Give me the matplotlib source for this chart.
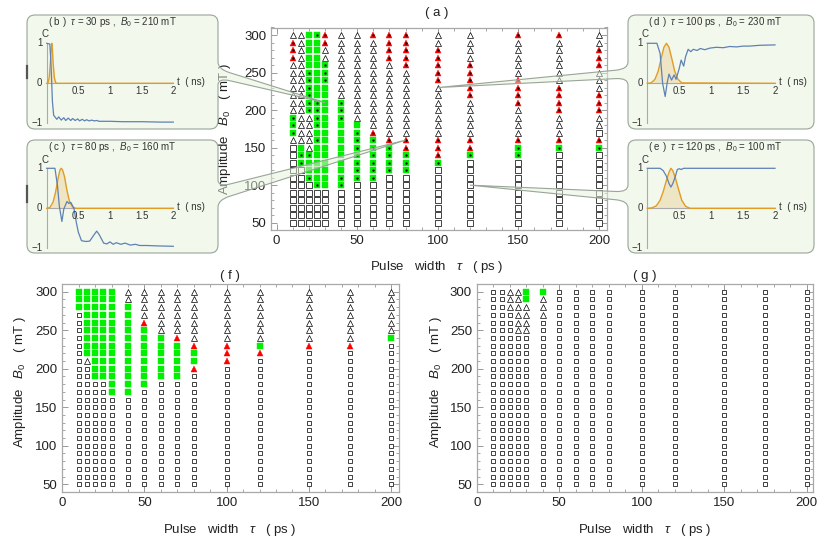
import matplotlib
matplotlib.use('Agg')
import matplotlib.pyplot as plt
from matplotlib.path import Path
from matplotlib.patches import PathPatch
from matplotlib.ticker import MultipleLocator
import numpy as np

plt.rcParams['font.family'] = ['Liberation Sans', 'DejaVu Sans']
plt.rcParams['mathtext.fontset'] = 'custom'
plt.rcParams['mathtext.rm'] = 'Liberation Sans'
plt.rcParams['mathtext.it'] = 'Liberation Sans:italic'

# scan grid: pulse widths (ps) and field amplitudes (mT, top to bottom)
taus = [10, 15, 20, 25, 30, 40, 50, 60, 70, 80, 100, 120, 150, 175, 200]
b0_levels = [300, 290, 280, 270, 260, 250, 240, 230, 220, 210, 200, 190, 180,
             170, 160, 150, 140, 130, 120, 110, 100, 90, 80, 70, 60, 50]

# one string per column, 300 mT first
# o open triangle, r red triangle with dot, R red triangle,
# G green square with dot, g green square, s open square
grid_a = [
    "o" + "rrr" + "o" * 7 + "GGG" + "o" + "s" * 11,
    "o" * 15 + "g" + "GG" + "s" * 8,
    "g" * 5 + "G" * 6 + "o" * 5 + "G" + "gg" + "G" + "s" * 6,
    "G" + "g" * 8 + "GGGG" + "g" + "G" + "g" * 5 + "G" + "s" * 5,
    "rr" + "oo" + "GGG" + "g" * 14 + "s" * 5,
    "o" * 9 + "GGG" + "g" * 7 + "GG" + "s" * 5,
    "o" * 12 + "g" + "G" * 7 + "s" * 6,
    "r" + "o" * 12 + "r" + "G" * 6 + "s" * 6,
    "rrrr" + "o" * 10 + "r" + "GGGG" + "s" * 7,
    "r" * 5 + "o" * 9 + "rr" + "GGG" + "s" * 7,
    "oo" + "rrrrr" + "o" * 7 + "rrr" + "G" + "s" * 8,
    "oooo" + "rrrrr" + "ooooo" + "rr" + "G" + "s" * 9,
    "r" + "ooooo" + "rrrr" + "oooo" + "r" + "GG" + "s" * 9,
    "r" + "o" * 6 + "rrrr" + "ooo" + "r" + "G" + "s" * 10,
    "oo" + "rrr" + "ooo" + "rrr" + "oo" + "s" + "r" + "G" + "s" * 10,
]
grid_f = [
    "ggg" + "s" * 23,
    "g" * 9 + "o" + "s" * 16,
    "g" * 12 + "s" * 14,
    "g" * 12 + "s" * 14,
    "g" * 14 + "s" * 12,
    "oo" + "g" * 12 + "s" * 12,
    "oooo" + "R" + "g" * 8 + "s" * 13,
    "o" * 6 + "g" * 6 + "s" * 14,
    "o" * 6 + "R" + "g" * 5 + "s" * 14,
    "o" * 7 + "R" + "gg" + "R" + "s" * 15,
    "o" * 7 + "RRR" + "s" * 16,
    "o" * 7 + "g" + "R" + "s" * 17,
    "o" * 7 + "R" + "s" * 18,
    "o" * 7 + "R" + "s" * 18,
    "o" * 6 + "g" + "s" * 19,
]
grid_g = [
    "s" * 26,
    "s" * 26,
    "ooo" + "s" * 23,
    "o" * 6 + "s" * 20,
    "gg" + "oooo" + "s" * 20,
    "g" + "ooo" + "s" * 22,
] + ["s" * 26] * 9

# inset curves: t (ns), pulse envelope, and C(t)
tp_b = [0, 0.02, 0.04, 0.06, 0.07, 0.08, 0.09, 0.1, 0.12, 0.14, 0.16, 2.0]
pulse_b = [0, 0.01, 0.15, 0.55, 0.85, 1.0, 0.85, 0.55, 0.15, 0.02, 0, 0]
tc_b = [0.0, 0.05, 0.07, 0.09, 0.11, 0.13, 0.16, 0.19, 0.23, 0.27, 0.30, 0.34,
        0.38, 0.41, 0.45, 0.49, 0.52, 0.56, 0.60, 0.63, 0.67, 0.71, 0.75, 0.79,
        0.83, 0.9, 1.0, 1.2, 1.5, 1.8, 2.0]
c_b = [1.0, 0.98, 0.4, -0.45, -0.8, -0.84, -0.9, -0.84, -0.92, -0.86, -0.93,
       -0.87, -0.93, -0.88, -0.93, -0.89, -0.94, -0.9, -0.94, -0.91, -0.94,
       -0.92, -0.94, -0.93, -0.95, -0.95, -0.95, -0.96, -0.96, -0.97, -0.97]

tp_c = [0, 0.05, 0.1, 0.14, 0.18, 0.21, 0.23, 0.25, 0.28, 0.32, 0.36, 0.41, 0.46, 2.0]
pulse_c = [0, 0.02, 0.15, 0.4, 0.75, 0.96, 1.0, 0.96, 0.8, 0.45, 0.17, 0.03, 0, 0]
tc_c = [0, 0.13, 0.17, 0.2, 0.24, 0.27, 0.32, 0.35, 0.38, 0.43, 0.47, 0.5, 0.55,
        0.62, 0.68, 0.74, 0.79, 0.83, 0.9, 0.95, 1.0, 1.05, 1.1, 1.17, 1.24,
        1.32, 1.4, 1.47, 1.58, 1.74, 2.0]
c_c = [1.0, 1.0, 0.57, 0.05, -0.33, -0.02, 0.17, 0.12, 0.15, 0.0, -0.37, -0.6,
       -0.81, -0.83, -0.82, -0.68, -0.57, -0.66, -0.87, -0.89, -0.84, -0.9,
       -0.86, -0.9, -0.87, -0.92, -0.9, -0.93, -0.93, -0.94, -0.95]

tp_d = [0, 0.06, 0.12, 0.17, 0.22, 0.26, 0.3, 0.34, 0.38, 0.43, 0.48, 0.54, 2.0]
pulse_d = [0, 0.01, 0.1, 0.3, 0.64, 0.9, 1.0, 0.9, 0.64, 0.3, 0.1, 0.01, 0]
tc_d = [0, 0.15, 0.2, 0.24, 0.28, 0.31, 0.34, 0.38, 0.42, 0.45, 0.5, 0.53, 0.57,
        0.6, 0.64, 0.68, 0.72, 0.78, 0.83, 0.9, 0.98, 1.08, 1.19, 1.29, 1.4,
        1.5, 1.6, 1.76, 2.0]
c_d = [1.0, 1.0, 0.75, 0.0, -0.33, 0.0, 0.23, 0.08, 0.21, 0.1, 0.37, 0.58, 0.43,
       0.67, 0.85, 0.79, 0.85, 0.82, 0.87, 0.84, 0.88, 0.9, 0.89, 0.92, 0.91,
       0.93, 0.93, 0.95, 0.96]

tp_e = [0, 0.07, 0.14, 0.2, 0.25, 0.3, 0.34, 0.37, 0.4, 0.44, 0.49, 0.54, 0.6, 0.67, 2.0]
pulse_e = [0, 0.01, 0.06, 0.2, 0.42, 0.7, 0.9, 1.0, 0.94, 0.76, 0.47, 0.2, 0.05, 0.0, 0]
tc_e = [0, 0.2, 0.25, 0.3, 0.34, 0.37, 0.4, 0.44, 0.47, 0.5, 0.53, 0.57, 0.7, 1.0, 1.5, 2.0]
c_e = [1.0, 1.0, 0.94, 0.8, 0.62, 0.53, 0.62, 0.8, 0.97, 0.99, 0.97, 1.0, 1.0, 1.0, 1.0, 1.0]

inset_labels = ["( b )  $\\tau$ = 30 ps ,  $B_0$ = 210 mT",
                "( c )  $\\tau$ = 80 ps ,  $B_0$ = 160 mT",
                "( d )  $\\tau$ = 100 ps ,  $B_0$ = 230 mT",
                "( e )  $\\tau$ = 120 ps ,  $B_0$ = 100 mT"]
inset_points = [(30, 210), (80, 160), (100, 230), (120, 100)]

W, H = 830, 540
fig = plt.figure(figsize=(W / 100, H / 100), dpi=100)


def px_rect(l, t, r, b):
    return [l / W, 1 - b / H, (r - l) / W, (b - t) / H]


def style(code, small):
    k = 0.9 if small else 1.0
    if code == 'o':
        return dict(marker='^', mfc='white', mec='black', mew=0.5, ms=4.8 * k)
    if code == 's':
        return dict(marker='s', mfc='white', mec='#222222', mew=0.6, ms=3.7 * k)
    if code in 'gG':
        return dict(marker='s', mfc='#00f000', mec='#00f000', mew=0.3, ms=4.4 * k)
    return dict(marker='^', mfc='#ff0000', mec='#ff0000', mew=0.3, ms=5.0 * k)


def panel(rect, grid, small):
    ax = fig.add_axes(rect)
    for code in 'sogGrR':
        xs, ys = [], []
        for tau, col in zip(taus, grid):
            for b, c in zip(b0_levels, col):
                if c == code:
                    xs.append(tau)
                    ys.append(b)
        if not xs:
            continue
        ax.plot(xs, ys, ls='none', **style(code, small))
        if code in 'Gr':
            ax.plot(xs, ys, ls='none', marker='o', ms=1.7, color='black', mew=0)
    ax.set_ylim(40, 310)
    ax.xaxis.set_major_locator(MultipleLocator(50))
    ax.xaxis.set_minor_locator(MultipleLocator(10))
    ax.yaxis.set_major_locator(MultipleLocator(50))
    ax.yaxis.set_minor_locator(MultipleLocator(10))
    ax.tick_params(which='both', direction='in', top=True, right=True,
                   color='#999999', labelsize=9.5, labelcolor='#222222')
    ax.tick_params(which='major', length=4, width=0.7)
    ax.tick_params(which='minor', length=2, width=0.6)
    for s in ax.spines.values():
        s.set_color('#a8a8a8')
        s.set_linewidth(0.9)
    return ax


ax_a = panel(px_rect(271, 27.5, 607, 230.2), grid_a, False)
ax_a.set_xlim(-3.5, 205)
ax_f = panel(px_rect(62.3, 284, 399.3, 492), grid_f, True)
ax_f.set_xlim(0, 205)
ax_g = panel(px_rect(476.8, 284, 813.3, 492), grid_g, True)
ax_g.set_xlim(0, 204)


def ftext(x, y, s, **kw):
    fig.text(x / W, 1 - y / H, s, **kw)


xlab = "Pulse   width   $\\tau$   ( ps )"
ylab = "Amplitude   $B_0$   ( mT )"
for (tx, ty), (lx, ly), (yx, yy), t in [((437, 13), (437, 267), (225, 129), '( a )'),
                                         ((230, 276), (230, 530), (20, 382), '( f )'),
                                         ((645, 276), (645, 530), (436, 382), '( g )')]:
    ftext(tx, ty, t, ha='center', va='center', fontsize=9.5, color='#222222')
    ftext(lx, ly, xlab, ha='center', va='center', fontsize=9.5, color='#222222')
    ftext(yx, yy, ylab, ha='center', va='center', fontsize=9.5, color='#222222',
          rotation=90)

# overlay in pixel coordinates for the callout boxes
ax_o = fig.add_axes([0, 0, 1, 1], zorder=5)
ax_o.set_xlim(0, W)
ax_o.set_ylim(H, 0)
ax_o.axis('off')


def callout(left, top, right, bottom, side, ya, yb, tip, r=8):
    verts, codes = [], []

    def add(code, *pts):
        for p in pts:
            verts.append(p)
            codes.append(code)

    def along(x, y):
        d = np.array(tip) - np.array([x, y])
        d = d / np.hypot(*d)
        return (x + 12 * d[0], y + 12 * d[1])

    add(Path.MOVETO, (left + r, top))
    add(Path.LINETO, (right - r, top))
    add(Path.CURVE3, (right, top), (right, top + r))
    if side == 'right':
        add(Path.LINETO, (right, ya - 7))
        add(Path.CURVE3, (right, ya), along(right, ya))
        add(Path.LINETO, tip, along(right, yb))
        add(Path.CURVE3, (right, yb), (right, yb + 7))
    add(Path.LINETO, (right, bottom - r))
    add(Path.CURVE3, (right, bottom), (right - r, bottom))
    add(Path.LINETO, (left + r, bottom))
    add(Path.CURVE3, (left, bottom), (left, bottom - r))
    if side == 'left':
        add(Path.LINETO, (left, yb + 7))
        add(Path.CURVE3, (left, yb), along(left, yb))
        add(Path.LINETO, tip, along(left, ya))
        add(Path.CURVE3, (left, ya), (left, ya - 7))
    add(Path.LINETO, (left, top + r))
    add(Path.CURVE3, (left, top), (left + r, top))
    add(Path.CLOSEPOLY, (left + r, top))
    ax_o.add_patch(PathPatch(Path(verts, codes), fc=(0.9, 0.95, 0.86, 0.5),
                             ec='#98a598', lw=0.8))


boxes = [(27, 15, 218, 129, 'right', 69, 78),
         (27, 140, 218, 253, 'right', 187, 200),
         (628, 15, 814, 129, 'left', 69, 78),
         (628, 140, 814, 253, 'left', 192, 201)]
for (l, t, r, b, side, ya, yb), pt in zip(boxes, inset_points):
    d = ax_a.transData.transform(pt)
    callout(l, t, r, b, side, ya, yb, (d[0], H - d[1]))
ax_o.plot([26.5, 26.5], [66, 78], color='#555555', lw=1.6)
ax_o.plot([26.5, 26.5], [186, 202], color='#555555', lw=1.6)

inset_rects = [(46.7, 43.3, 173.3, 123.3), (46.7, 168.3, 173.3, 248.3),
               (647.3, 43.3, 775, 123.3), (647.3, 168.3, 775, 248.3)]
inset_data = [(tp_b, pulse_b, tc_b, c_b), (tp_c, pulse_c, tc_c, c_c),
              (tp_d, pulse_d, tc_d, c_d), (tp_e, pulse_e, tc_e, c_e)]
for (l, t, r, b), (tp, pp, tc, cc), lab in zip(inset_rects, inset_data, inset_labels):
    ax_i = fig.add_axes(px_rect(l, t, r, b), zorder=6)
    ax_i.set_xlim(0, 2)
    ax_i.set_ylim(-1, 1)
    ax_i.axis('off')
    ax_i.plot([0, 0], [-1, 1], color='#aaaaaa', lw=0.8, clip_on=False)
    ax_i.plot([0, 2], [0, 0], color='#aaaaaa', lw=0.8, clip_on=False)
    ax_i.fill_between(tp, pp, 0, color='#e19c24', alpha=0.2, lw=0)
    ax_i.plot(tp, pp, color='#e19c24', lw=1.0, clip_on=False)
    ax_i.plot(tc, cc, color='#5e81b5', lw=0.9, clip_on=False)
    for v, s in [(1, '1'), (0, '0'), (-1, '\u22121')]:
        ax_i.text(-0.07, v, s, ha='right', va='center', fontsize=7, color='#333333')
    for v, s in [(0.5, '0.5'), (1, '1'), (1.5, '1.5'), (2, '2')]:
        ax_i.text(v, -0.2, s, ha='center', va='center', fontsize=7, color='#333333')
    ax_i.text(-0.03, 1.22, 'C', ha='center', va='center', fontsize=7, color='#333333')
    ax_i.text(2.06, 0.04, 't  ( ns)', ha='left', va='center', fontsize=7, color='#333333')
    ax_o.text(l + 1, t - 21.5, lab, ha='left', va='center', fontsize=7, color='#333333')

fig.savefig('out.png', dpi=100)
